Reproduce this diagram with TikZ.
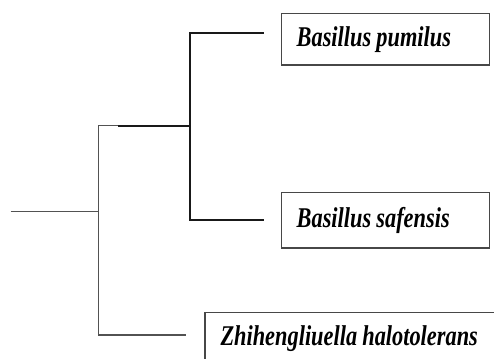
\documentclass[tikz,border=0pt]{standalone}
\usepackage{fontspec}
\usepackage{graphicx}
\setmainfont{Liberation Serif}
\newfontfamily\taxonfont{Liberation Serif}[UprightFont=* Bold Italic]
\newcommand{\taxon}[1]{\scalebox{0.86}[1.1]{\taxonfont\fontsize{26}{30}\selectfont\spaceskip=6pt\relax #1}}
\tikzset{
  thinbranch/.style={draw=black!68, line width=1.3pt},
  thickbranch/.style={draw=black!90, line width=2.3pt},
  taxonbox/.style={draw=black!72, line width=1.4pt, rectangle, anchor=north west,
    minimum height=51.6pt, inner xsep=15.5pt, inner ysep=0pt, align=left},
}
\begin{document}
\begin{tikzpicture}[x=1pt, y=-1pt]
  \useasboundingbox (0,0) rectangle (494,358);
  \clip (0,0) rectangle (494,358);

  % branch points of the tree
  \coordinate (root) at (10.7,211.3);
  \coordinate (n0) at (98.3,211.3);
  \coordinate (n0top) at (98.3,125.8);
  \coordinate (n0bot) at (98.3,335);
  \coordinate (n1start) at (118,125.8);
  \coordinate (n1) at (190,125.8);
  \coordinate (n1top) at (190,33.3);
  \coordinate (n1bot) at (190,220);
  \coordinate (leafA) at (262.7,33.3);
  \coordinate (leafB) at (262.7,220);
  \coordinate (leafC) at (185.7,335);

  % taxon labels
  \node[taxonbox, text width=177pt] (pum) at (280.5,12.7) {\taxon{Basillus pumilus}};
  \node[taxonbox, text width=177pt, minimum height=55.6pt] (saf) at (280.5,191.7) {\taxon{Basillus safensis}};
  \node[taxonbox, text width=300pt] (zhi) at (204.3,311.7) {\taxon{Zhihengliuella halotolerans}};

  % outer clade (thin lines)
  \draw[thinbranch] (root) -- (n0);
  \draw[thinbranch] (n1start) -- (n0top) -- (n0bot) -- (leafC);

  % inner clade (thick lines)
  \draw[thickbranch] (n1start) -- (n1);
  \draw[thickbranch, line cap=rect] (leafA) -- (n1top) -- (n1bot) -- (leafB);
\end{tikzpicture}
\end{document}
